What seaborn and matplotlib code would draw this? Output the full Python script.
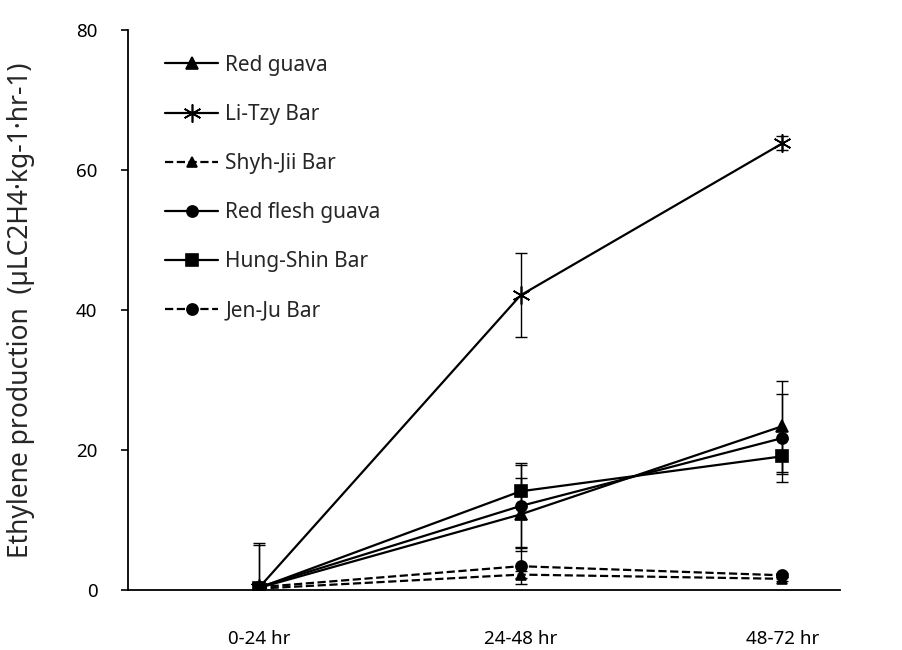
import numpy as np
import pandas as pd
import matplotlib
matplotlib.use("Agg")
import matplotlib.pyplot as plt
import seaborn as sns

# --- data ---
periods = ["0-24 hr", "24-48 hr", "48-72 hr"]

red_guava = [0.3, 10.8, 23.4]
red_guava_err = [6.2, 5.2, 6.5]
li_tzy = [0.3, 42.1, 63.8]
li_tzy_err = [6.4, 6.0, 1.0]
shyh_jii = [0.2, 2.2, 1.6]
shyh_jii_err = [0.3, 0.5, 0.3]
red_flesh = [0.4, 12.0, 21.7]
red_flesh_err = [0.5, 5.8, 6.3]
hung_shin = [0.3, 14.1, 19.1]
hung_shin_err = [0.5, 4.0, 2.5]
jen_ju = [0.4, 3.4, 2.1]
jen_ju_err = [0.5, 2.6, 0.3]

series_names = ["Red guava", "Li-Tzy Bar", "Shyh-Jii Bar",
                "Red flesh guava", "Hung-Shin Bar", "Jen-Ju Bar"]
series_vals = [red_guava, li_tzy, shyh_jii, red_flesh, hung_shin, jen_ju]
series_errs = [red_guava_err, li_tzy_err, shyh_jii_err,
               red_flesh_err, hung_shin_err, jen_ju_err]

styles = {
    "Red guava": dict(marker="^", ls="-", ms=8),
    "Li-Tzy Bar": dict(marker=(6, 2, 0), ls="-", ms=13),
    "Shyh-Jii Bar": dict(marker="^", ls="--", ms=7),
    "Red flesh guava": dict(marker="o", ls="-", ms=8),
    "Hung-Shin Bar": dict(marker="s", ls="-", ms=8),
    "Jen-Ju Bar": dict(marker="o", ls="--", ms=8),
}

rows = []
for name, vals, errs in zip(series_names, series_vals, series_errs):
    for i, (p, v, e) in enumerate(zip(periods, vals, errs)):
        rows.append({"series": name, "pos": i, "period": p, "value": v, "err": e})
df = pd.DataFrame(rows)

sns.set_theme(style="white")
plt.rcParams["font.family"] = ["Noto Sans", "DejaVu Sans"]

fig = plt.figure(figsize=(9.03, 6.5), dpi=100)
ax = fig.add_axes([0.1417, 0.0923, 0.7883, 0.8615])

for name in series_names:
    sub = df[df["series"] == name]
    st = styles[name]
    ax.errorbar(sub["pos"], sub["value"], yerr=sub["err"], fmt="none",
                ecolor="black", elinewidth=1.0, capsize=4, capthick=1.0, zorder=2)
    sns.lineplot(data=sub, x="pos", y="value", ax=ax, color="black",
                 linestyle=st["ls"], linewidth=1.6, marker=st["marker"],
                 markersize=st["ms"], markeredgecolor="black",
                 markerfacecolor="black", markeredgewidth=1.2,
                 label=name, zorder=3)

ax.set_xlim(-0.50, 2.22)
ax.set_ylim(0, 80)
ax.set_yticks([0, 20, 40, 60, 80])
ax.set_xticks(range(len(periods)))
ax.set_xticklabels(periods)
ax.set_xlabel("")
ax.set_ylabel("Ethylene production  (\u00b5LC2H4\u00b7kg-1\u00b7hr-1)", fontsize=19)
ax.yaxis.set_label_coords(-0.131, 0.5)

for s in ["top", "right"]:
    ax.spines[s].set_visible(False)
for s in ["left", "bottom"]:
    ax.spines[s].set_color("black")
    ax.spines[s].set_linewidth(1.3)

ax.tick_params(axis="y", left=True, direction="out", length=5, width=1.2,
               pad=17, labelsize=13.5, colors="black")
ax.tick_params(axis="x", bottom=False, pad=23, labelsize=13.5, colors="black")

leg = ax.legend(loc="upper left", bbox_to_anchor=(0.052, 0.956), frameon=False,
                fontsize=15, handlelength=2.55, labelspacing=1.35,
                handletextpad=0.35, borderaxespad=0, borderpad=0)

fig.savefig("out.png", dpi=100)
plt.close(fig)
